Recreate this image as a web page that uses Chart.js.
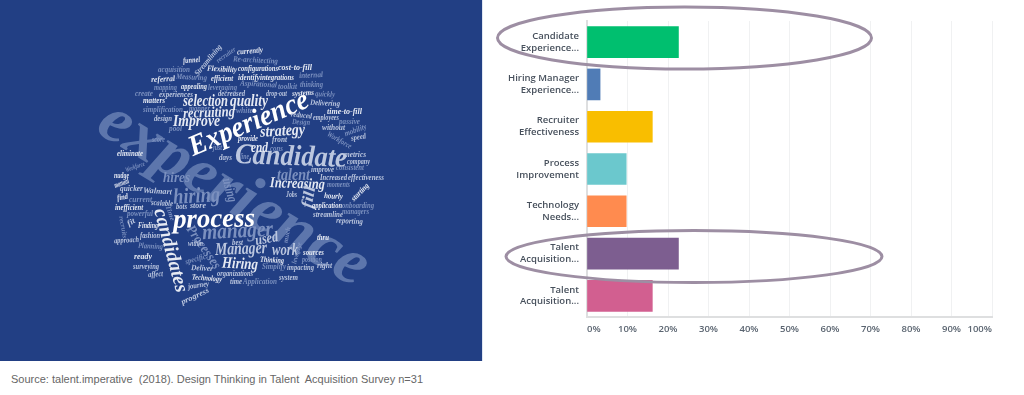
<!DOCTYPE html>
<html lang="en">
<head>
    <meta charset="UTF-8">
    <title>Design Thinking in Talent Acquisition Survey</title>
    <script src="https://cdn.jsdelivr.net/npm/chart.js"></script>
    <style>
        * { margin: 0; padding: 0; box-sizing: border-box; }
        html, body { width: 1024px; height: 395px; background: #fff; overflow: hidden; }
        #cloud { position: absolute; left: 0; top: 0; width: 482px; height: 361px; background: #223f84; }
        #cloud svg { position: absolute; left: 0; top: 0; filter: blur(0.35px); }
        #strip { position: absolute; left: 482px; top: 0; width: 1px; height: 361px; background: #dfe6f2; }
        #chartBox { position: absolute; left: 482px; top: 0; width: 542px; height: 361px; filter: blur(0.3px); }
        #source { position: absolute; left: 11px; top: 373px; font: 11px "Liberation Sans", Arial, sans-serif; color: #666; white-space: pre; }
    </style>
</head>
<body>
    <div id="cloud"></div>
    <div id="strip"></div>
    <div id="chartBox"><canvas id="myChart" width="542" height="361"></canvas></div>
    <div id="source">Source: talent.imperative  (2018). Design Thinking in Talent  Acquisition Survey n=31</div>

    <script>
        const categories = [
            ['Candidate', 'Experience...'],
            ['Hiring Manager', 'Experience...'],
            ['Recruiter', 'Effectiveness'],
            ['Process', 'Improvement'],
            ['Technology', 'Needs...'],
            ['Talent', 'Acquisition...'],
            ['Talent', 'Acquisition...']
        ];
        const shares = [22.58, 3.23, 16.13, 9.68, 9.68, 22.58, 16.13];
        const barColors = ['#00bf6f', '#507cb6', '#f9be00', '#6bc8cd', '#ff8b4f', '#7d5e90', '#d25f90'];

        // word cloud: [word, left, right, baseline-ish y, size, angle, tone]
        const tones = { w: '#ffffff', b: '#e6eaf3', m: '#bcc7df', d: '#7b90bf', x: '#5d76ac' };
        const cloudWords = [
            ['experience', 84, 388, 190, 66, 31, 'x'],
            ['Experience', 184, 312, 122, 29, -23, 'w'],
            ['Candidate', 235, 347, 155, 29, 2, 'm'],
            ['process', 173, 255, 218, 27, -1, 'w'],
            ['candidates', 129, 215, 250, 20, 75, 'b'],
            ['hiring', 173, 220, 195, 22, -3, 'd'],
            ['manager', 202, 273, 230, 22, -3, 'd'],
            ['Manager', 215, 267, 248, 18, -2, 'm'],
            ['work', 272, 298, 249, 16, 0, 'm'],
            ['used', 255, 278, 238, 15, -10, 'm'],
            ['Hiring', 222, 258, 263, 16, 3, 'b'],
            ['Processes', 179, 229, 247, 14, 55, 'd'],
            ['Increasing', 270, 325, 183, 15, 2, 'b'],
            ['talent', 277, 310, 174, 16, 0, 'd'],
            ['strategy', 260, 305, 130, 16, -3, 'b'],
            ['quality', 230, 268, 100, 16, 0, 'b'],
            ['selection', 183, 228, 100, 16, 0, 'b'],
            ['recruiting', 183, 235, 112, 15, -2, 'b'],
            ['Improve', 173, 220, 120, 17, 0, 'b'],
            ['end', 251, 268, 147, 14, 0, 'b'],
            ['hires', 163, 190, 177, 15, 0, 'd'],
            ['fill', 297, 319, 197, 16, -80, 'm'],
            ['using', 218, 242, 190, 14, 75, 'd'],
            ['currently', 237, 263, 51, 8, -5, 'b'],
            ['funnel', 183, 200, 60, 8, -5, 'b'],
            ['Streamlining', 189, 227, 60, 8, -50, 'm'],
            ['recruiter', 215, 237, 55, 7, -35, 'd'],
            ['Re-architecting', 233, 278, 60, 8, 3, 'd'],
            ['acquisition', 158, 190, 69, 8, 0, 'd'],
            ['Flexibility', 207, 237, 69, 8, 3, 'b'],
            ['configurations', 238, 278, 68, 8, 0, 'b'],
            ['cost-to-fill', 278, 312, 67, 8, 0, 'b'],
            ['referral', 151, 175, 79, 8, -3, 'b'],
            ['Measuring', 176, 207, 77, 8, 3, 'd'],
            ['efficient', 211, 233, 78, 8, 0, 'b'],
            ['identify', 238, 260, 77, 8, 0, 'b'],
            ['integrations', 260, 294, 77, 8, 0, 'b'],
            ['internal', 299, 323, 75, 8, -3, 'd'],
            ['mapping', 154, 177, 87, 8, 0, 'd'],
            ['appealing', 181, 207, 86, 8, 0, 'b'],
            ['leveraging', 208, 237, 87, 8, 0, 'd'],
            ['Aspirational', 240, 277, 84, 8, 3, 'd'],
            ['toolkit', 278, 297, 86, 8, 0, 'd'],
            ['thinking', 300, 323, 84, 8, 0, 'd'],
            ['create', 135, 153, 93, 8, 0, 'd'],
            ['experiences', 159, 193, 94, 8, 0, 'm'],
            ['decreased', 218, 245, 93, 8, 0, 'm'],
            ['drop-out', 266, 287, 93, 8, 0, 'm'],
            ['systems', 292, 314, 93, 8, -3, 'b'],
            ['quickly', 315, 335, 94, 8, 3, 'd'],
            ['matters', 143, 165, 100, 8, 0, 'b'],
            ['Delivering', 310, 340, 103, 8, 3, 'm'],
            ['simplification', 143, 183, 109, 8, 0, 'd'],
            ['white', 236, 253, 110, 8, 0, 'd'],
            ['manner', 189, 210, 108, 8, 0, 'd'],
            ['time-to-fill', 327, 362, 111, 8, 0, 'b'],
            ['reduced', 291, 312, 115, 8, 5, 'm'],
            ['employees', 313, 339, 117, 8, 0, 'm'],
            ['design', 154, 172, 118, 8, 0, 'm'],
            ['Design', 292, 310, 122, 8, 3, 'd'],
            ['passive', 339, 360, 121, 8, 0, 'd'],
            ['pool', 169, 182, 128, 8, 0, 'd'],
            ['without', 322, 345, 127, 8, 0, 'm'],
            ['mobility', 344, 367, 130, 8, -20, 'd'],
            ['provide', 238, 258, 138, 8, 0, 'b'],
            ['front', 272, 287, 139, 8, 0, 'm'],
            ['Workforce', 326, 353, 140, 8, 30, 'd'],
            ['speed', 351, 366, 137, 8, -10, 'm'],
            ['score', 152, 165, 139, 8, 0, 'd'],
            ['eliminate', 117, 143, 153, 8, 0, 'b'],
            ['just', 213, 222, 147, 8, 0, 'd'],
            ['cons', 270, 283, 148, 8, 0, 'd'],
            ['metrics', 344, 366, 154, 8, 0, 'm'],
            ['days', 219, 232, 157, 8, 0, 'm'],
            ['line', 240, 249, 156, 8, 0, 'd'],
            ['company', 347, 370, 161, 8, 0, 'm'],
            ['consistent', 336, 364, 167, 8, 0, 'd'],
            ['improve', 311, 334, 169, 8, 0, 'm'],
            ['Workforce', 125, 145, 167, 7, -20, 'd'],
            ['Increased', 320, 347, 177, 8, 0, 'm'],
            ['effectiveness', 348, 384, 177, 8, 0, 'm'],
            ['moments', 327, 350, 184, 8, 0, 'd'],
            ['nudge', 114, 129, 175, 8, 0, 'b'],
            ['manual', 114, 129, 183, 8, -20, 'b'],
            ['quicker', 120, 143, 188, 8, 0, 'm'],
            ['Walmart', 143, 172, 191, 8, 3, 'm'],
            ['find', 117, 128, 197, 8, -10, 'b'],
            ['current', 129, 152, 199, 8, 0, 'd'],
            ['scalable', 151, 173, 203, 8, 3, 'm'],
            ['inefficient', 115, 143, 207, 8, 0, 'b'],
            ['bots', 176, 187, 206, 8, 0, 'm'],
            ['store', 190, 206, 205, 8, 0, 'm'],
            ['Jobs', 286, 297, 194, 8, 0, 'm'],
            ['hourly', 324, 343, 196, 8, 3, 'b'],
            ['application', 312, 342, 205, 8, 0, 'b'],
            ['onboarding', 342, 374, 205, 8, 0, 'd'],
            ['streamline', 313, 343, 214, 8, 0, 'm'],
            ['managers', 342, 369, 211, 8, 0, 'd'],
            ['reporting', 336, 363, 221, 8, 3, 'm'],
            ['powerful', 127, 153, 213, 8, 0, 'd'],
            ['Time', 162, 178, 213, 7, 70, 'd'],
            ['recruits', 112, 134, 227, 7, 80, 'd'],
            ['fit', 127, 135, 222, 8, -30, 'm'],
            ['Finding', 138, 158, 225, 8, 0, 'b'],
            ['fashion', 140, 160, 235, 8, 0, 'm'],
            ['approach', 114, 139, 240, 8, -3, 'm'],
            ['Planning', 138, 163, 246, 8, 3, 'd'],
            ['within', 188, 203, 243, 8, 0, 'm'],
            ['best', 232, 243, 242, 8, 0, 'm'],
            ['ready', 134, 152, 256, 8, 0, 'b'],
            ['surveying', 133, 159, 266, 8, 0, 'm'],
            ['affect', 148, 163, 274, 8, -3, 'm'],
            ['specific', 185, 206, 259, 8, -15, 'd'],
            ['Deliver', 191, 213, 268, 8, 3, 'm'],
            ['organizations', 217, 253, 273, 8, 0, 'm'],
            ['Technology', 192, 222, 278, 8, 5, 'b'],
            ['journey', 188, 209, 285, 8, -8, 'm'],
            ['progress', 180, 210, 296, 8, -25, 'm'],
            ['time', 230, 242, 281, 8, 0, 'm'],
            ['Application', 243, 277, 281, 8, 0, 'd'],
            ['system', 279, 298, 277, 8, 0, 'm'],
            ['Simplify', 262, 286, 266, 8, 0, 'd'],
            ['Thinking', 260, 284, 260, 8, 3, 'b'],
            ['impacting', 287, 314, 267, 8, 0, 'm'],
            ['right', 317, 332, 265, 8, 0, 'm'],
            ['position', 302, 322, 259, 8, 0, 'd'],
            ['sources', 303, 324, 252, 8, 0, 'b'],
            ['leverage', 286, 308, 253, 7, -75, 'd'],
            ['thru', 317, 329, 237, 8, 0, 'b'],
            ['much', 279, 295, 235, 7, -80, 'd'],
            ['starting', 349, 371, 192, 8, -45, 'b']
        ];

        function drawCloud() {
            const ns = 'http://www.w3.org/2000/svg';
            const svg = document.createElementNS(ns, 'svg');
            svg.setAttribute('width', 482);
            svg.setAttribute('height', 361);
            cloudWords.forEach(([word, left, right, y, size, angle, tone]) => {
                const cx = (left + right) / 2;
                const t = document.createElementNS(ns, 'text');
                t.textContent = word;
                t.setAttribute('x', cx);
                t.setAttribute('y', y);
                t.setAttribute('text-anchor', 'middle');
                t.setAttribute('dominant-baseline', 'central');
                t.setAttribute('textLength', right - left);
                t.setAttribute('lengthAdjust', 'spacingAndGlyphs');
                t.setAttribute('font-family', 'Liberation Serif, serif');
                t.setAttribute('font-style', 'italic');
                t.setAttribute('font-weight', 'bold');
                t.setAttribute('font-size', size);
                t.setAttribute('fill', tones[tone]);
                t.setAttribute('transform', `rotate(${angle} ${cx} ${y})`);
                svg.appendChild(t);
            });
            document.getElementById('cloud').appendChild(svg);
        }
        drawCloud();

        // the two hand drawn rings around the top answers
        const ringsPlugin = {
            id: 'rings',
            afterDatasetsDraw(chart) {
                const ctx = chart.ctx;
                ctx.save();
                ctx.strokeStyle = '#9d8ea3';
                ctx.lineWidth = 3;
                ctx.beginPath();
                ctx.ellipse(202.5, 38, 187, 31, 0, 0, Math.PI * 2);
                ctx.stroke();
                ctx.beginPath();
                ctx.ellipse(212, 256.5, 188, 26, 0, 0, Math.PI * 2);
                ctx.stroke();
                ctx.restore();
            }
        };

        new Chart(document.getElementById('myChart').getContext('2d'), {
            type: 'bar',
            data: {
                labels: categories,
                datasets: [{
                    data: shares,
                    backgroundColor: barColors,
                    barThickness: 31,
                    borderWidth: 0
                }]
            },
            options: {
                indexAxis: 'y',
                responsive: false,
                animation: false,
                layout: { padding: { top: 21, right: 32, left: 0, bottom: 0 } },
                scales: {
                    x: {
                        min: 0,
                        max: 100,
                        afterFit: scale => { scale.height = 44; },
                        grid: { color: '#f0f1f2', lineWidth: 1, drawTicks: false },
                        border: { color: '#dedfe0', width: 2 },
                        ticks: {
                            stepSize: 10,
                            align: 'inner',
                            maxRotation: 0,
                            autoSkip: false,
                            padding: 7,
                            color: '#5a6470',
                            font: { family: 'Open Sans', size: 9.5, weight: '600' },
                            callback: v => v + '%'
                        }
                    },
                    y: {
                        afterFit: scale => { scale.width = 105; },
                        grid: { display: false, drawTicks: false },
                        border: { color: '#dedfe0', width: 2 },
                        ticks: {
                            padding: 8,
                            color: '#47505c',
                            font: { family: 'Open Sans', size: 9.5, weight: '600', lineHeight: 1.25 }
                        }
                    }
                },
                plugins: {
                    legend: { display: false },
                    tooltip: { enabled: false }
                }
            },
            plugins: [ringsPlugin]
        });
    </script>
</body>
</html>
